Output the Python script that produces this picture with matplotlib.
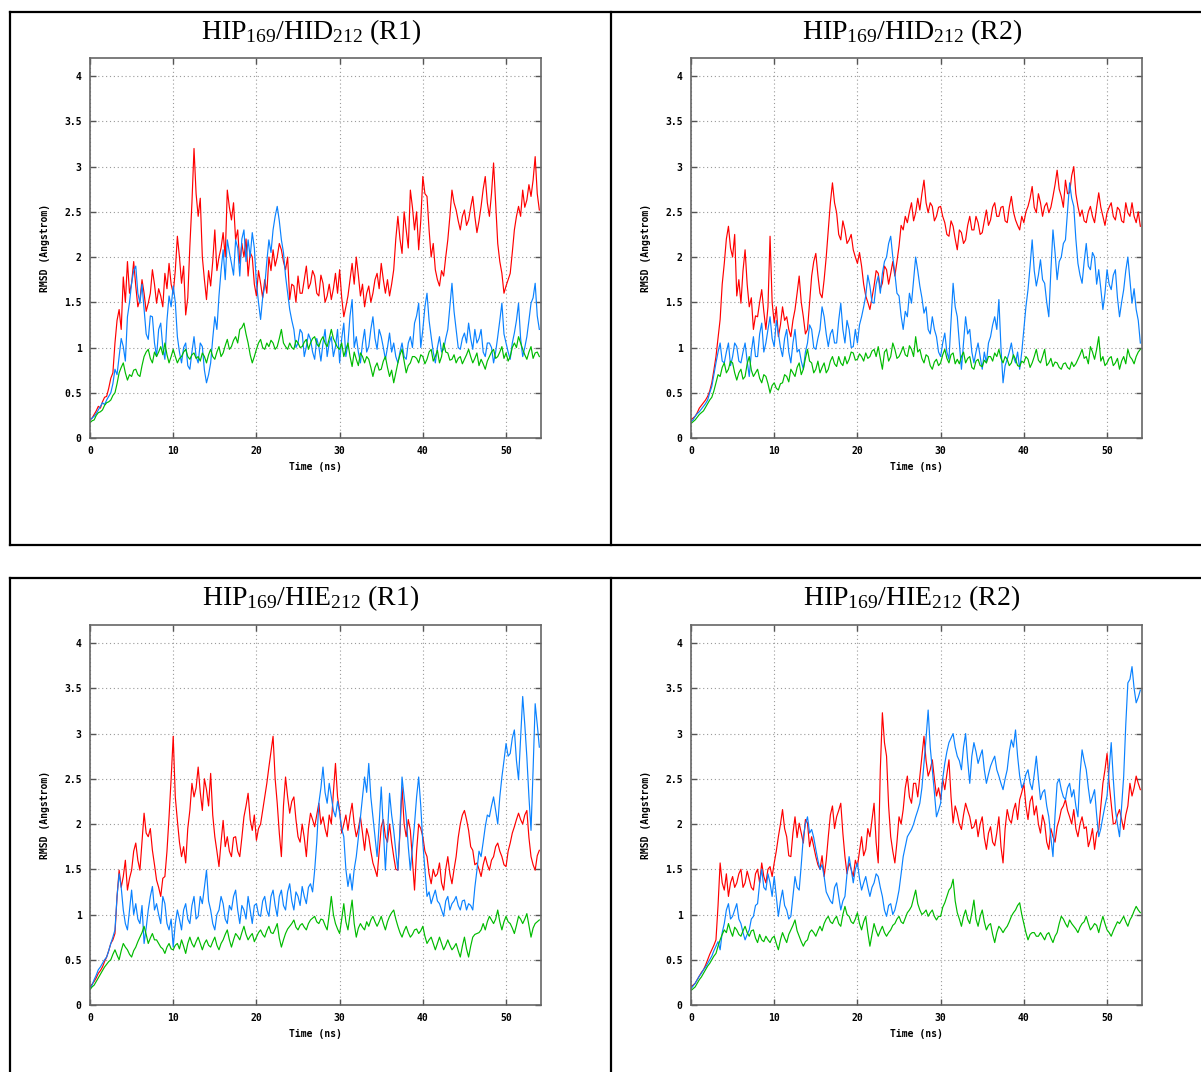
import numpy as np
import matplotlib
matplotlib.use("Agg")
import matplotlib.pyplot as plt
from matplotlib.lines import Line2D

# ---------- Data (RMSD in Angstrom) ----------
# *_a : values read at 0, 0.5, 1.0 ... 54 ns
# *_b : values read half way between, at 0.25, 0.75 ... 53.75 ns
time_ns = np.arange(0, 54.01, 0.25)

titles = [
    r"HIP$_{169}$/HID$_{212}$ (R1)",
    r"HIP$_{169}$/HID$_{212}$ (R2)",
    r"HIP$_{169}$/HIE$_{212}$ (R1)",
    r"HIP$_{169}$/HIE$_{212}$ (R2)",
]

# --- HIP169/HID212 (R1)
p1_red_a = [0.2, 0.26, 0.35, 0.4, 0.46, 0.66, 1.05, 1.42, 1.78, 1.95,
            1.71, 1.68, 1.53, 1.6, 1.49, 1.86, 1.49, 1.57, 1.82, 1.93,
            1.6, 2.23, 1.71, 1.36, 2.12, 3.2, 2.45, 2.0, 1.53, 1.68,
            2.3, 2.0, 2.27, 2.74, 2.41, 2.19, 1.93, 2.0, 1.79, 2.0,
            1.57, 1.71, 1.75, 2.0, 2.08, 2.0, 2.08, 1.86, 1.53, 1.68,
            1.79, 1.6, 1.9, 1.71, 1.79, 1.57, 1.71, 1.57, 1.53, 1.82,
            1.86, 1.34, 1.57, 1.93, 2.0, 1.57, 1.45, 1.68, 1.6, 1.82,
            1.93, 1.6, 1.57, 1.86, 2.45, 2.04, 2.3, 2.74, 2.3, 2.08,
            2.89, 2.67, 2.0, 1.86, 1.68, 1.79, 2.19, 2.74, 2.52, 2.3,
            2.52, 2.41, 2.67, 2.27, 2.56, 2.89, 2.45, 3.04, 2.15, 1.82,
            1.68, 1.82, 2.3, 2.56, 2.74, 2.63, 2.67, 3.11, 2.52]
p1_red_b = [0.22, 0.3, 0.33, 0.45, 0.55, 0.72, 1.3, 1.2, 1.5, 1.6,
            1.95, 1.45, 1.75, 1.4, 1.6, 1.7, 1.65, 1.45, 1.65, 1.7,
            1.85, 2.0, 1.9, 1.55, 2.6, 2.7, 2.65, 1.75, 1.85, 1.95,
            1.85, 2.1, 2.0, 2.55, 2.6, 2.3, 2.15, 2.2, 2.05, 1.7,
            1.85, 1.55, 1.6, 1.85, 1.9, 2.15, 1.95, 2.0, 1.7, 1.5,
            1.6, 1.75, 1.65, 1.85, 1.6, 1.8, 1.5, 1.7, 1.65, 1.6,
            1.55, 1.45, 1.75, 1.7, 1.8, 1.7, 1.6, 1.5, 1.75, 1.65,
            1.75, 1.75, 1.7, 2.2, 2.2, 2.5, 2.1, 2.55, 2.5, 2.4,
            2.7, 2.3, 2.15, 1.75, 1.85, 2.0, 2.45, 2.6, 2.4, 2.45,
            2.35, 2.55, 2.45, 2.4, 2.75, 2.6, 2.7, 2.6, 1.95, 1.6,
            1.75, 2.05, 2.45, 2.45, 2.55, 2.8, 2.85, 2.7]
p1_blue_a = [0.2, 0.24, 0.31, 0.39, 0.42, 0.5, 0.76, 0.9, 1.01, 1.34,
             1.71, 1.9, 1.49, 1.42, 1.09, 1.34, 0.9, 1.27, 0.87, 1.57,
             1.68, 1.12, 0.83, 1.05, 0.76, 1.12, 0.83, 1.01, 0.61, 0.83,
             1.34, 1.57, 2.08, 2.19, 1.93, 2.19, 1.79, 2.3, 2.19, 2.27,
             1.71, 1.31, 1.68, 2.19, 2.3, 2.56, 2.19, 1.79, 1.42, 1.2,
             1.05, 1.16, 1.01, 1.09, 0.87, 1.01, 1.05, 0.9, 1.12, 1.01,
             0.83, 1.27, 1.05, 1.53, 1.12, 0.83, 1.2, 1.01, 1.34, 0.98,
             1.12, 0.87, 1.16, 1.05, 0.83, 1.05, 0.87, 1.12, 1.27, 1.49,
             1.2, 1.6, 1.12, 0.83, 1.12, 0.98, 1.2, 1.71, 1.2, 0.98,
             1.16, 1.27, 0.98, 1.05, 1.2, 0.9, 1.05, 0.83, 1.12, 1.49,
             1.05, 0.87, 1.16, 1.49, 0.9, 1.12, 1.49, 1.71, 1.2]
p1_blue_b = [0.22, 0.27, 0.35, 0.37, 0.46, 0.6, 0.7, 1.1, 0.85, 1.5,
             1.85, 1.6, 1.7, 1.15, 1.35, 1.05, 1.2, 1.0, 1.3, 1.45,
             1.5, 0.95, 1.0, 0.8, 0.95, 0.9, 1.05, 0.75, 0.7, 1.1,
             1.2, 1.85, 1.75, 2.05, 1.8, 2.1, 2.2, 1.95, 2.0, 2.1,
             1.5, 1.55, 1.95, 2.05, 2.45, 2.4, 2.05, 1.6, 1.3, 1.0,
             1.2, 0.9, 1.15, 0.95, 1.1, 0.85, 1.2, 1.05, 0.9, 1.2,
             1.1, 0.9, 1.35, 1.0, 0.95, 1.05, 0.95, 1.2, 1.1, 1.2,
             1.0, 1.0, 0.95, 0.9, 0.95, 0.9, 1.05, 1.0, 1.35, 1.0,
             1.45, 1.3, 0.95, 1.0, 0.95, 1.1, 1.45, 1.4, 1.0, 1.1,
             1.05, 1.1, 1.2, 1.1, 0.95, 1.05, 1.0, 0.95, 1.3, 1.15,
             0.95, 1.05, 1.3, 1.1, 1.0, 1.3, 1.55, 1.35]
p1_green_a = [0.17, 0.2, 0.28, 0.31, 0.39, 0.42, 0.5, 0.72, 0.83, 0.64,
              0.68, 0.76, 0.68, 0.9, 0.98, 0.83, 0.9, 1.01, 1.05, 0.83,
              0.98, 0.83, 0.9, 0.98, 0.87, 0.94, 0.9, 0.94, 0.83, 0.98,
              0.87, 1.01, 0.94, 1.09, 1.01, 1.12, 1.2, 1.27, 1.05, 0.83,
              0.98, 1.09, 0.98, 1.01, 1.05, 1.01, 1.2, 1.01, 1.05, 0.98,
              1.05, 1.01, 1.09, 1.05, 1.12, 1.01, 1.12, 1.01, 1.2, 1.05,
              0.98, 0.9, 1.05, 0.79, 0.87, 0.94, 0.83, 0.87, 0.68, 0.83,
              0.76, 0.9, 0.68, 0.61, 0.83, 0.98, 0.72, 0.83, 0.9, 0.83,
              0.9, 0.87, 0.98, 0.9, 0.83, 1.05, 0.94, 0.87, 0.83, 0.9,
              0.87, 0.98, 0.83, 0.94, 0.87, 0.76, 0.9, 0.98, 0.9, 1.01,
              0.94, 0.9, 1.05, 1.12, 0.98, 0.87, 1.01, 0.94, 0.9]
p1_green_b = [0.19, 0.25, 0.29, 0.36, 0.4, 0.47, 0.6, 0.78, 0.72, 0.7,
              0.75, 0.7, 0.8, 0.95, 0.88, 0.95, 0.95, 0.92, 0.92, 0.9,
              0.9, 0.88, 0.95, 0.9, 0.92, 0.88, 0.85, 0.9, 0.92, 0.9,
              0.95, 0.9, 1.02, 0.98, 1.08, 1.05, 1.22, 1.15, 0.92, 0.9,
              1.05, 1.0, 1.05, 1.08, 0.98, 1.1, 1.05, 0.98, 1.0, 1.08,
              1.0, 1.06, 0.98, 1.1, 1.04, 1.08, 1.05, 1.1, 1.1, 1.0,
              1.05, 0.98, 0.9, 0.95, 0.8, 0.9, 0.9, 0.78, 0.78, 0.75,
              0.85, 0.78, 0.75, 0.72, 0.92, 0.85, 0.8, 0.9, 0.88, 0.92,
              0.82, 0.95, 0.85, 0.97, 0.9, 0.95, 0.86, 0.92, 0.88, 0.82,
              0.92, 0.9, 0.88, 0.8, 0.82, 0.85, 0.95, 0.88, 0.95, 0.88,
              0.85, 1.0, 1.0, 1.05, 0.92, 0.95, 0.88, 0.95]

# --- HIP169/HID212 (R2)
p2_red_a = [0.2, 0.24, 0.33, 0.39, 0.46, 0.61, 0.9, 1.31, 1.93, 2.34,
            2.0, 1.57, 1.49, 2.08, 1.45, 1.2, 1.34, 1.64, 1.2, 2.23,
            1.27, 1.12, 1.45, 1.34, 1.12, 1.42, 1.79, 1.34, 1.2, 1.79,
            2.04, 1.6, 1.75, 2.3, 2.82, 2.49, 2.19, 2.3, 2.19, 2.08,
            1.93, 1.9, 1.57, 1.42, 1.68, 1.82, 1.71, 1.86, 1.82, 1.79,
            2.12, 2.3, 2.38, 2.6, 2.49, 2.52, 2.85, 2.49, 2.56, 2.45,
            2.56, 2.38, 2.23, 2.34, 2.08, 2.27, 2.19, 2.45, 2.3, 2.38,
            2.27, 2.52, 2.41, 2.6, 2.45, 2.56, 2.38, 2.67, 2.41, 2.3,
            2.38, 2.56, 2.78, 2.49, 2.6, 2.56, 2.49, 2.67, 2.96, 2.67,
            2.85, 2.71, 3.0, 2.56, 2.52, 2.38, 2.56, 2.38, 2.71, 2.45,
            2.49, 2.6, 2.41, 2.52, 2.38, 2.49, 2.6, 2.38, 2.34]
p2_red_b = [0.22, 0.28, 0.36, 0.42, 0.52, 0.75, 1.1, 1.7, 2.2, 2.1,
            2.25, 1.75, 1.85, 1.7, 1.55, 1.35, 1.5, 1.4, 1.45, 1.5,
            1.45, 1.25, 1.3, 1.2, 1.3, 1.6, 1.5, 1.15, 1.5, 1.95,
            1.8, 1.55, 2.0, 2.6, 2.6, 2.25, 2.4, 2.15, 2.25, 2.0,
            2.05, 1.7, 1.5, 1.55, 1.85, 1.65, 1.9, 1.7, 1.95, 1.95,
            2.35, 2.45, 2.5, 2.4, 2.65, 2.7, 2.6, 2.6, 2.4, 2.55,
            2.45, 2.25, 2.4, 2.2, 2.3, 2.15, 2.35, 2.3, 2.45, 2.25,
            2.4, 2.35, 2.55, 2.45, 2.55, 2.4, 2.55, 2.5, 2.35, 2.45,
            2.5, 2.65, 2.55, 2.7, 2.45, 2.6, 2.55, 2.8, 2.75, 2.55,
            2.7, 2.9, 2.7, 2.45, 2.4, 2.5, 2.45, 2.55, 2.55, 2.35,
            2.55, 2.45, 2.55, 2.4, 2.6, 2.45, 2.45, 2.5]
p2_blue_a = [0.18, 0.24, 0.29, 0.35, 0.42, 0.57, 0.83, 1.05, 0.83, 1.05,
             0.9, 1.01, 0.83, 1.05, 0.68, 1.12, 0.9, 1.27, 1.05, 1.34,
             1.01, 1.16, 0.9, 1.2, 0.83, 1.2, 0.98, 0.76, 1.05, 1.2,
             0.98, 1.2, 1.34, 1.01, 1.2, 1.05, 1.49, 1.05, 1.2, 1.01,
             1.05, 1.34, 1.57, 1.68, 1.49, 1.79, 1.82, 2.0, 2.23, 1.82,
             1.57, 1.2, 1.34, 1.49, 2.0, 1.68, 1.38, 1.2, 1.34, 1.12,
             0.9, 1.16, 0.87, 1.71, 1.34, 0.76, 1.34, 1.2, 0.83, 1.05,
             0.76, 0.83, 1.12, 1.34, 1.53, 0.61, 0.87, 1.05, 0.83, 0.76,
             1.2, 1.64, 2.19, 1.68, 1.97, 1.71, 1.34, 2.3, 1.75, 2.0,
             2.19, 2.82, 2.56, 1.93, 1.71, 2.15, 1.86, 2.0, 1.86, 1.42,
             1.86, 1.64, 1.86, 1.34, 1.64, 2.0, 1.49, 1.42, 1.05]
p2_blue_b = [0.2, 0.27, 0.32, 0.38, 0.5, 0.7, 0.95, 0.85, 0.95, 0.8,
             1.05, 0.85, 0.95, 0.85, 0.95, 0.9, 1.15, 0.95, 1.2, 1.1,
             1.3, 1.0, 1.1, 0.95, 1.05, 0.95, 0.85, 0.95, 1.25, 1.0,
             1.1, 1.45, 1.15, 1.15, 1.05, 1.3, 1.2, 1.3, 1.0, 1.2,
             1.25, 1.45, 1.8, 1.5, 1.7, 1.6, 1.95, 2.15, 2.0, 1.6,
             1.35, 1.4, 1.6, 1.75, 1.85, 1.55, 1.45, 1.15, 1.2, 0.95,
             1.05, 0.95, 1.3, 1.45, 1.05, 1.05, 1.15, 0.95, 0.95, 0.9,
             0.95, 1.05, 1.25, 1.2, 1.0, 0.8, 0.95, 0.9, 0.95, 0.95,
             1.45, 1.9, 1.85, 1.8, 1.75, 1.5, 1.85, 2.05, 1.95, 2.15,
             2.5, 2.65, 2.2, 1.8, 1.95, 1.9, 2.05, 1.7, 1.65, 1.6,
             1.7, 1.8, 1.55, 1.5, 1.85, 1.75, 1.65, 1.3]
p2_green_a = [0.16, 0.2, 0.26, 0.3, 0.38, 0.45, 0.61, 0.68, 0.83, 0.76,
              0.83, 0.64, 0.76, 0.68, 0.9, 0.68, 0.76, 0.61, 0.68, 0.5,
              0.61, 0.53, 0.61, 0.68, 0.76, 0.68, 0.83, 0.76, 0.98, 0.83,
              0.76, 0.72, 0.83, 0.76, 0.9, 0.79, 0.83, 0.9, 0.87, 0.94,
              0.87, 0.9, 0.94, 0.9, 0.98, 1.01, 0.76, 0.98, 0.9, 0.98,
              0.9, 1.01, 0.9, 0.98, 1.12, 0.98, 0.83, 0.9, 0.76, 0.87,
              0.83, 0.98, 0.83, 0.94, 0.87, 0.9, 0.83, 0.9, 0.76, 0.87,
              0.79, 0.83, 0.9, 0.94, 0.98, 0.83, 0.87, 0.83, 0.87, 0.79,
              0.83, 0.87, 0.83, 0.98, 0.83, 0.98, 0.83, 0.79, 0.83, 0.76,
              0.83, 0.76, 0.79, 0.87, 0.98, 0.9, 1.01, 0.87, 1.12, 0.9,
              0.83, 0.9, 0.83, 0.76, 0.9, 0.98, 0.87, 0.9, 0.98]
p2_green_b = [0.18, 0.23, 0.28, 0.34, 0.42, 0.52, 0.7, 0.78, 0.72, 0.85,
              0.72, 0.72, 0.65, 0.82, 0.75, 0.72, 0.66, 0.7, 0.6, 0.58,
              0.55, 0.6, 0.7, 0.62, 0.72, 0.78, 0.7, 0.88, 0.85, 0.72,
              0.85, 0.78, 0.72, 0.85, 0.82, 0.9, 0.8, 0.82, 0.95, 0.86,
              0.93, 0.85, 0.88, 0.96, 0.9, 0.88, 0.95, 0.85, 1.05, 0.88,
              0.95, 0.92, 1.02, 0.9, 0.95, 0.88, 0.92, 0.8, 0.84, 0.8,
              0.92, 0.88, 0.92, 0.82, 0.82, 0.95, 0.88, 0.78, 0.85, 0.8,
              0.86, 0.9, 0.85, 0.9, 0.88, 0.9, 0.8, 0.92, 0.8, 0.85,
              0.9, 0.78, 0.9, 0.86, 0.9, 0.8, 0.88, 0.84, 0.78, 0.82,
              0.78, 0.84, 0.82, 0.92, 0.88, 0.82, 0.95, 0.98, 0.85, 0.8,
              0.88, 0.8, 0.88, 0.85, 0.82, 0.9, 0.82, 0.95]

# --- HIP169/HIE212 (R1)
p3_red_a = [0.2, 0.26, 0.35, 0.42, 0.53, 0.68, 0.79, 1.49, 1.42, 1.27,
            1.49, 1.79, 1.49, 2.12, 1.86, 1.71, 1.38, 1.2, 1.42, 2.08,
            2.97, 2.04, 1.64, 1.57, 2.15, 2.3, 2.63, 2.15, 2.38, 2.56,
            1.86, 1.53, 2.04, 1.86, 1.64, 1.86, 1.64, 2.08, 2.34, 1.93,
            1.82, 2.0, 2.3, 2.63, 2.97, 2.23, 1.64, 2.52, 2.12, 2.3,
            1.86, 2.0, 1.64, 2.12, 1.97, 2.23, 2.08, 1.86, 2.0, 2.67,
            2.15, 2.0, 1.93, 2.23, 1.86, 2.08, 1.71, 1.86, 1.57, 1.42,
            1.97, 1.86, 2.0, 1.64, 1.49, 2.41, 1.86, 1.93, 1.27, 2.0,
            1.86, 1.64, 1.34, 1.42, 1.57, 1.27, 1.64, 1.34, 1.64, 2.0,
            2.15, 1.93, 1.71, 1.57, 1.42, 1.64, 1.49, 1.64, 1.79, 1.64,
            1.53, 1.79, 1.97, 2.12, 2.0, 2.15, 1.64, 1.49, 1.71]
p3_red_b = [0.23, 0.3, 0.38, 0.48, 0.6, 0.72, 1.2, 1.3, 1.6, 1.4,
            1.7, 1.6, 1.8, 1.9, 1.95, 1.55, 1.3, 1.4, 1.7, 2.5,
            2.3, 1.8, 1.75, 1.95, 2.45, 2.4, 2.35, 2.5, 2.2, 2.1,
            1.7, 1.8, 1.75, 1.7, 1.85, 1.7, 1.85, 2.2, 2.05, 2.1,
            1.95, 2.15, 2.45, 2.8, 2.5, 1.9, 2.2, 2.3, 2.25, 2.05,
            1.8, 1.85, 1.95, 2.05, 2.1, 2.0, 1.95, 2.1, 2.35, 2.3,
            1.9, 2.1, 2.1, 2.0, 1.95, 1.9, 1.95, 1.7, 1.5, 1.7,
            2.05, 1.8, 1.8, 1.5, 1.9, 2.0, 2.05, 1.6, 1.7, 1.95,
            1.7, 1.45, 1.5, 1.45, 1.35, 1.5, 1.45, 1.5, 1.85, 2.1,
            2.05, 1.75, 1.55, 1.5, 1.55, 1.55, 1.6, 1.75, 1.7, 1.55,
            1.7, 1.9, 2.05, 2.05, 2.1, 1.85, 1.55, 1.65]
p3_blue_a = [0.18, 0.28, 0.39, 0.46, 0.53, 0.68, 0.83, 1.45, 1.05, 0.83,
             1.27, 1.12, 0.9, 0.68, 1.05, 1.31, 1.12, 0.9, 1.12, 0.83,
             0.64, 1.05, 0.83, 1.12, 0.9, 1.2, 0.98, 1.12, 1.49, 1.05,
             0.83, 1.05, 1.12, 0.9, 1.05, 1.27, 0.9, 1.05, 1.2, 0.9,
             1.12, 0.98, 1.2, 0.98, 1.27, 0.98, 1.27, 1.05, 1.34, 1.05,
             1.2, 1.31, 1.12, 1.34, 1.49, 2.23, 2.63, 2.23, 2.3, 2.08,
             2.12, 1.86, 1.31, 1.27, 1.64, 2.08, 2.52, 2.67, 2.08, 1.64,
             2.41, 1.49, 2.34, 1.93, 1.49, 2.52, 2.08, 1.49, 2.0, 2.52,
             1.79, 1.2, 1.12, 1.27, 1.12, 0.98, 1.2, 1.12, 1.2, 1.05,
             1.16, 1.12, 1.05, 1.49, 1.64, 1.97, 2.08, 2.3, 2.0, 2.52,
             2.89, 2.78, 3.04, 2.49, 3.41, 2.74, 1.93, 3.33, 2.85]
p3_blue_b = [0.22, 0.33, 0.42, 0.5, 0.6, 0.75, 1.2, 1.3, 0.9, 1.05,
             1.0, 0.95, 1.1, 0.85, 1.2, 1.05, 1.0, 1.2, 0.9, 0.95,
             0.9, 0.95, 1.05, 0.95, 1.1, 0.95, 1.2, 1.3, 1.15, 0.9,
             1.0, 1.2, 0.95, 1.1, 1.2, 1.05, 1.1, 0.95, 1.05, 1.1,
             1.0, 1.15, 1.05, 1.2, 1.1, 1.2, 1.1, 1.25, 1.15, 1.25,
             1.1, 1.2, 1.3, 1.25, 1.8, 2.4, 2.35, 2.45, 2.15, 2.25,
             1.95, 1.5, 1.45, 1.5, 1.85, 2.3, 2.35, 2.3, 1.85, 2.0,
             1.95, 1.9, 2.1, 1.7, 1.95, 2.3, 1.75, 1.75, 2.3, 2.2,
             1.5, 1.25, 1.2, 1.15, 1.05, 1.15, 1.05, 1.15, 1.1, 1.15,
             1.05, 1.1, 1.3, 1.7, 1.8, 2.1, 2.2, 2.15, 2.3, 2.7,
             2.75, 2.95, 2.7, 2.95, 3.1, 2.3, 2.6, 3.1]
p3_green_a = [0.17, 0.22, 0.3, 0.38, 0.45, 0.5, 0.61, 0.5, 0.68, 0.61,
              0.53, 0.64, 0.75, 0.87, 0.68, 0.79, 0.72, 0.64, 0.57, 0.68,
              0.61, 0.68, 0.72, 0.57, 0.75, 0.64, 0.75, 0.61, 0.72, 0.64,
              0.75, 0.61, 0.72, 0.83, 0.64, 0.79, 0.72, 0.87, 0.72, 0.79,
              0.75, 0.83, 0.75, 0.87, 0.79, 0.9, 0.64, 0.79, 0.87, 0.94,
              0.83, 0.9, 0.83, 0.94, 0.98, 0.9, 0.94, 0.83, 1.2, 0.9,
              0.79, 1.12, 0.83, 1.16, 0.75, 0.9, 0.83, 0.87, 0.98, 0.87,
              0.98, 0.83, 0.98, 1.05, 0.87, 0.75, 0.87, 0.75, 0.83, 0.79,
              0.87, 0.68, 0.75, 0.61, 0.75, 0.61, 0.72, 0.61, 0.68, 0.53,
              0.75, 0.53, 0.75, 0.79, 0.83, 0.83, 0.98, 0.9, 1.05, 0.83,
              0.98, 0.9, 0.79, 0.98, 0.9, 1.01, 0.75, 0.9, 0.94]
p3_green_b = [0.2, 0.26, 0.34, 0.42, 0.48, 0.56, 0.55, 0.6, 0.64, 0.56,
              0.6, 0.7, 0.8, 0.78, 0.74, 0.72, 0.68, 0.62, 0.64, 0.62,
              0.66, 0.62, 0.65, 0.68, 0.68, 0.7, 0.68, 0.68, 0.66, 0.7,
              0.66, 0.68, 0.78, 0.72, 0.72, 0.76, 0.8, 0.78, 0.76, 0.7,
              0.8, 0.78, 0.82, 0.8, 0.84, 0.74, 0.72, 0.84, 0.9, 0.86,
              0.88, 0.86, 0.9, 0.96, 0.92, 0.95, 0.88, 1.0, 1.0, 0.84,
              0.95, 0.92, 1.0, 0.9, 0.85, 0.86, 0.92, 0.94, 0.92, 0.92,
              0.9, 0.92, 1.02, 0.95, 0.8, 0.82, 0.8, 0.78, 0.84, 0.82,
              0.76, 0.72, 0.68, 0.68, 0.68, 0.66, 0.66, 0.64, 0.6, 0.65,
              0.62, 0.65, 0.78, 0.8, 0.9, 0.92, 0.94, 0.95, 0.92, 0.92,
              0.92, 0.85, 0.88, 0.95, 0.95, 0.88, 0.85, 0.92]

# --- HIP169/HIE212 (R2)
p4_red_a = [0.2, 0.24, 0.32, 0.39, 0.5, 0.61, 0.72, 1.57, 1.27, 1.2,
            1.42, 1.35, 1.5, 1.35, 1.39, 1.27, 1.5, 1.57, 1.35, 1.53,
            1.57, 1.86, 2.16, 1.86, 1.64, 2.08, 2.01, 1.79, 2.01, 1.86,
            1.64, 1.5, 1.42, 1.86, 2.2, 2.08, 2.23, 1.64, 1.57, 1.42,
            1.53, 1.86, 1.72, 1.86, 2.23, 1.57, 3.23, 2.75, 1.86, 1.57,
            2.08, 2.16, 2.53, 2.23, 2.45, 2.53, 2.97, 2.53, 2.71, 2.31,
            2.27, 2.38, 2.71, 2.01, 2.12, 1.94, 2.23, 2.08, 1.97, 1.86,
            2.08, 1.72, 1.97, 1.76, 2.08, 1.57, 2.16, 2.01, 2.23, 2.27,
            2.45, 2.05, 2.31, 2.2, 1.9, 2.01, 1.72, 1.86, 1.97, 2.16,
            2.27, 2.08, 2.16, 1.86, 2.08, 1.97, 1.83, 1.72, 1.94, 2.45,
            2.78, 2.23, 2.01, 2.16, 1.94, 2.2, 2.31, 2.53, 2.38]
p4_red_b = [0.22, 0.28, 0.36, 0.44, 0.56, 0.66, 1.1, 1.35, 1.45, 1.35,
            1.3, 1.45, 1.3, 1.48, 1.3, 1.45, 1.35, 1.42, 1.5, 1.42,
            1.7, 2.0, 1.95, 1.65, 1.9, 1.85, 1.9, 2.05, 1.75, 1.75,
            1.55, 1.65, 1.6, 2.1, 1.95, 2.15, 1.9, 1.45, 1.5, 1.6,
            1.7, 1.65, 1.95, 2.05, 1.8, 2.6, 2.9, 2.2, 1.7, 1.8,
            2.0, 2.4, 2.3, 2.45, 2.3, 2.75, 2.7, 2.6, 2.5, 2.4,
            2.5, 2.55, 2.3, 2.2, 2.0, 2.1, 2.15, 1.95, 2.05, 2.0,
            1.85, 1.9, 1.8, 1.9, 1.75, 1.95, 2.05, 2.15, 2.05, 2.35,
            2.2, 2.25, 2.1, 2.0, 2.1, 1.8, 1.95, 1.8, 2.05, 2.2,
            2.15, 2.0, 1.95, 2.0, 1.95, 1.75, 1.95, 1.9, 2.2, 2.6,
            2.45, 2.0, 2.1, 2.05, 2.1, 2.45, 2.4, 2.45]
p4_blue_a = [0.18, 0.24, 0.32, 0.39, 0.46, 0.54, 0.65, 0.61, 0.9, 1.12,
             0.98, 1.12, 0.9, 0.72, 0.83, 0.98, 1.12, 1.5, 1.27, 1.35,
             1.42, 0.98, 1.27, 1.05, 0.98, 1.42, 1.27, 1.86, 2.08, 1.94,
             1.72, 1.5, 1.42, 1.2, 1.12, 1.35, 1.05, 1.2, 1.64, 1.35,
             1.57, 1.27, 1.42, 1.2, 1.35, 1.42, 1.2, 0.98, 1.12, 1.05,
             1.27, 1.64, 1.86, 1.94, 2.08, 2.23, 2.67, 3.26, 2.6, 2.08,
             2.23, 2.67, 2.9, 3.0, 2.75, 2.6, 3.0, 2.45, 2.9, 2.67,
             2.82, 2.45, 2.64, 2.75, 2.53, 2.38, 2.6, 2.93, 3.04, 2.53,
             2.45, 2.6, 2.38, 2.75, 2.27, 2.38, 2.08, 1.64, 2.45, 2.38,
             2.27, 2.45, 2.38, 2.08, 2.82, 2.6, 2.23, 2.38, 1.86, 2.08,
             2.31, 2.9, 2.16, 1.86, 2.53, 3.56, 3.74, 3.34, 3.48]
p4_blue_b = [0.21, 0.28, 0.35, 0.42, 0.5, 0.6, 0.7, 0.8, 1.05, 0.95,
             1.05, 0.95, 0.8, 0.78, 0.95, 1.1, 1.35, 1.3, 1.45, 1.2,
             1.2, 1.15, 1.1, 0.95, 1.2, 1.3, 1.55, 2.0, 1.9, 1.85,
             1.6, 1.55, 1.25, 1.15, 1.3, 1.2, 1.15, 1.45, 1.5, 1.5,
             1.4, 1.35, 1.3, 1.3, 1.45, 1.3, 1.05, 1.1, 1.0, 1.15,
             1.45, 1.75, 1.9, 2.0, 2.15, 2.4, 2.95, 2.85, 2.35, 2.15,
             2.5, 2.8, 2.95, 2.85, 2.7, 2.85, 2.7, 2.75, 2.8, 2.75,
             2.6, 2.55, 2.7, 2.6, 2.45, 2.5, 2.8, 2.85, 2.75, 2.4,
             2.55, 2.45, 2.55, 2.5, 2.35, 2.2, 1.85, 2.1, 2.5, 2.3,
             2.4, 2.3, 2.2, 2.55, 2.7, 2.4, 2.3, 2.1, 1.95, 2.2,
             2.6, 2.5, 2.0, 2.2, 3.1, 3.6, 3.5, 3.4]
p4_green_a = [0.16, 0.2, 0.28, 0.35, 0.43, 0.5, 0.57, 0.72, 0.83, 0.9,
              0.76, 0.83, 0.76, 0.87, 0.76, 0.83, 0.69, 0.72, 0.76, 0.69,
              0.76, 0.61, 0.8, 0.69, 0.83, 0.94, 0.76, 0.65, 0.72, 0.83,
              0.76, 0.87, 0.9, 0.98, 0.9, 0.98, 0.87, 1.09, 0.98, 0.9,
              1.02, 0.83, 0.98, 0.65, 0.9, 0.76, 0.87, 0.76, 0.83, 0.9,
              0.98, 0.9, 1.02, 1.09, 1.27, 1.05, 1.02, 0.98, 1.05, 0.94,
              0.98, 1.13, 1.27, 1.39, 1.02, 0.87, 1.05, 0.9, 1.16, 0.87,
              1.05, 0.83, 0.9, 0.69, 0.87, 0.8, 0.87, 0.98, 1.05, 1.13,
              0.9, 0.72, 0.8, 0.76, 0.8, 0.72, 0.8, 0.69, 0.8, 0.98,
              0.9, 0.94, 0.87, 0.8, 0.9, 0.98, 0.83, 0.9, 0.8, 0.98,
              0.83, 0.76, 0.87, 0.9, 0.98, 0.87, 0.98, 1.09, 1.02]
p4_green_b = [0.18, 0.24, 0.31, 0.39, 0.46, 0.54, 0.65, 0.78, 0.8, 0.82,
              0.86, 0.78, 0.82, 0.8, 0.82, 0.74, 0.78, 0.7, 0.72, 0.74,
              0.68, 0.72, 0.74, 0.78, 0.88, 0.82, 0.7, 0.7, 0.8, 0.8,
              0.82, 0.82, 0.95, 0.92, 0.95, 0.9, 1.0, 1.0, 0.92, 0.95,
              0.9, 0.92, 0.8, 0.78, 0.82, 0.82, 0.8, 0.8, 0.88, 0.95,
              0.92, 0.96, 1.05, 1.18, 1.12, 1.0, 1.05, 1.02, 0.98, 0.98,
              1.08, 1.2, 1.3, 1.15, 0.95, 0.98, 0.95, 1.02, 0.95, 0.98,
              0.92, 0.88, 0.78, 0.8, 0.84, 0.84, 0.92, 1.02, 1.1, 1.0,
              0.8, 0.78, 0.8, 0.76, 0.76, 0.78, 0.74, 0.76, 0.9, 0.95,
              0.86, 0.9, 0.84, 0.86, 0.92, 0.9, 0.86, 0.88, 0.9, 0.9,
              0.8, 0.82, 0.92, 0.94, 0.92, 0.94, 1.04, 1.05]


def merge(on_grid, half_way):
    out = []
    for a, b in zip(on_grid, half_way):
        out += [a, b]
    out.append(on_grid[-1])
    return out


panels = [
    (merge(p1_red_a, p1_red_b), merge(p1_blue_a, p1_blue_b), merge(p1_green_a, p1_green_b)),
    (merge(p2_red_a, p2_red_b), merge(p2_blue_a, p2_blue_b), merge(p2_green_a, p2_green_b)),
    (merge(p3_red_a, p3_red_b), merge(p3_blue_a, p3_blue_b), merge(p3_green_a, p3_green_b)),
    (merge(p4_red_a, p4_red_b), merge(p4_blue_a, p4_blue_b), merge(p4_green_a, p4_green_b)),
]

x_ticks = [0, 10, 20, 30, 40, 50]
y_ticks = [0, 0.5, 1, 1.5, 2, 2.5, 3, 3.5, 4]
y_tick_labels = ["0", "0.5", "1", "1.5", "2", "2.5", "3", "3.5", "4"]

line_colors = ["#ff0000", "#0a82ff", "#00bb00"]

# ---------- Figure / layout (in pixels) ----------
W, H = 1201, 1072
plt.rcParams["mathtext.fontset"] = "custom"
plt.rcParams["mathtext.rm"] = "Liberation Serif"
plt.rcParams["mathtext.it"] = "Liberation Serif"

fig = plt.figure(figsize=(W / 100, H / 100), dpi=100)


def fx(x):
    return x / W


def fy(y):
    return 1 - y / H


# axes boxes: (left, top) pixel corners, 451 x 380 px
ax_corners = [(90, 58), (691, 58), (90, 625), (691, 625)]
title_pos = [(311, 32), (912, 32), (311, 598), (912, 598)]
tick_font = {"family": "DejaVu Sans Mono", "weight": "bold", "size": 7}

for i, (left, top) in enumerate(ax_corners):
    ax = fig.add_axes([fx(left), fy(top + 380), 451 / W, 380 / H])
    red, blue, green = panels[i]
    ax.plot(time_ns, red, color=line_colors[0], lw=0.85)
    ax.plot(time_ns, blue, color=line_colors[1], lw=0.85)
    ax.plot(time_ns, green, color=line_colors[2], lw=0.85)

    ax.set_xlim(0, 54.2)
    ax.set_ylim(0, 4.2)
    ax.set_xticks(x_ticks)
    ax.set_xticklabels([str(t) for t in x_ticks], fontdict=tick_font)
    ax.set_yticks(y_ticks)
    ax.set_yticklabels(y_tick_labels, fontdict=tick_font)
    ax.tick_params(direction="in", length=4, width=1, color="#555555",
                   top=True, right=True, pad=6)
    ax.grid(True, linestyle=(0, (1, 2.5)), color="#9a9a9a", lw=0.8)
    for sp in ax.spines.values():
        sp.set_color("#666666")
        sp.set_linewidth(1.2)

    ax.set_xlabel("Time (ns)", fontdict=tick_font)
    ax.xaxis.set_label_coords(0.5, -0.063)
    ax.set_ylabel("RMSD (Angstrom)", fontdict=tick_font)
    ax.yaxis.set_label_coords(-0.088, 0.5)

    tx, ty = title_pos[i]
    fig.text(fx(tx), fy(ty), titles[i], ha="center", va="center",
             family="Liberation Serif", fontsize=20)

# ---------- Table-like frame lines ----------
frame = [
    ((10, 1201), (12, 12)),
    ((10, 1201), (545, 545)),
    ((10, 10), (12, 545)),
    ((611, 611), (12, 545)),
    ((10, 1201), (578, 578)),
    ((10, 10), (578, 1072)),
    ((611, 611), (578, 1072)),
]
for xs, ys in frame:
    fig.add_artist(Line2D([fx(xs[0]), fx(xs[1])], [fy(ys[0]), fy(ys[1])],
                          color="black", lw=1.6))

plt.savefig("out.png", dpi=100)
